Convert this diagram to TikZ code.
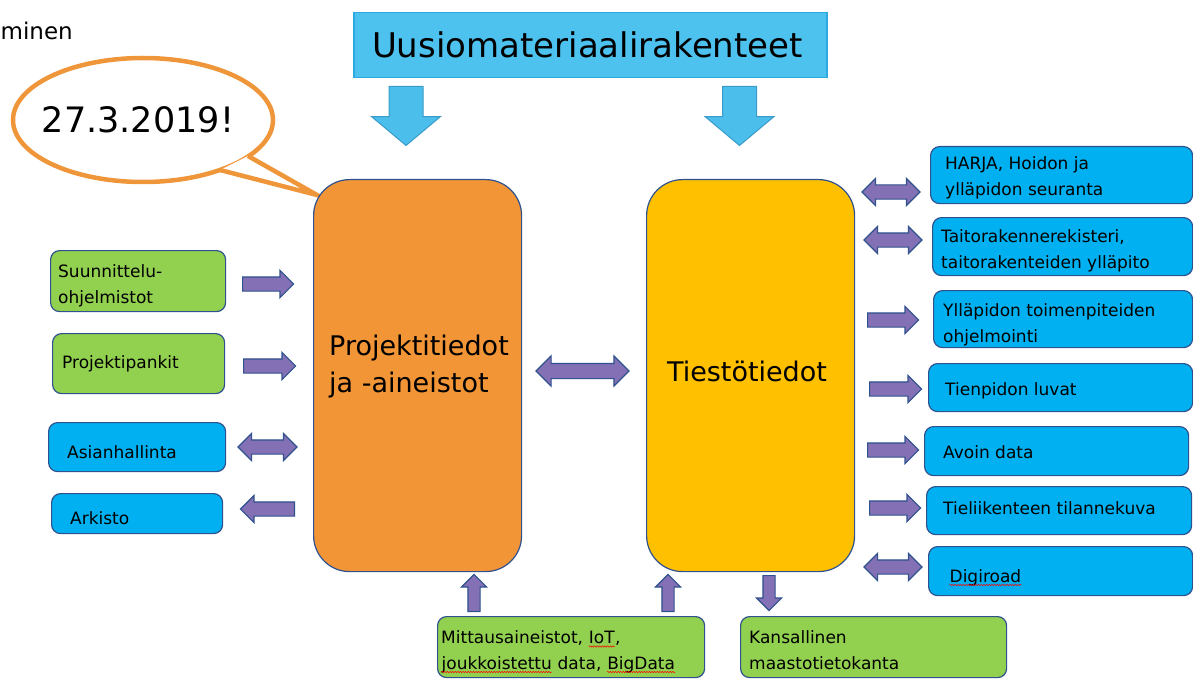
\documentclass[tikz,border=0pt]{standalone}
\usepackage{fontspec}
\setmainfont{DejaVu Sans}
\usetikzlibrary{shapes.arrows,decorations.pathmorphing}

\definecolor{skyblue}{HTML}{4DC2EF}
\definecolor{skyline}{HTML}{2DA9E1}
\definecolor{arrowblue}{HTML}{4BBEEC}
\definecolor{arrowblueline}{HTML}{3A9BC9}
\definecolor{bubbleorange}{HTML}{F0963A}
\definecolor{projorange}{HTML}{F29537}
\definecolor{tiestoyellow}{HTML}{FFC000}
\definecolor{boxgreen}{HTML}{92D050}
\definecolor{boxblue}{HTML}{00B0F0}
\definecolor{edgeblue}{HTML}{2F528F}
\definecolor{arrowpurple}{HTML}{8470B4}

\newcommand\spellmark[1]{\tikz[baseline=(w.base)]{\node[inner sep=0pt] (w) {#1}; \draw[red, line width=0.5pt, decorate, decoration={snake, amplitude=0.7pt, segment length=2.6pt}] ([yshift=-3pt]w.base west) -- ([yshift=-3pt]w.base east);}}

\tikzset{
  box/.style={draw=edgeblue, line width=1.2pt, rounded corners=9pt, anchor=north west, inner sep=0pt},
  greenbox/.style={box, fill=boxgreen},
  bluebox/.style={box, fill=boxblue},
  bigbox/.style={draw=edgeblue, line width=1.2pt, rounded corners=36pt, anchor=north west, inner sep=0pt, minimum width=208pt, minimum height=392pt},
  txt/.style={anchor=base west, inner sep=0pt, align=left, font=\fontsize{17}{25.5}\selectfont},
  bigtxt/.style={txt, font=\fontsize{27}{37}\selectfont},
  rarrow/.style={single arrow, anchor=tail, draw=edgeblue, fill=arrowpurple, line width=1.2pt, inner sep=6.5pt, minimum width=26pt, minimum height=52pt, single arrow head extend=6.5pt},
  darrow/.style={double arrow, draw=edgeblue, fill=arrowpurple, line width=1.2pt, inner sep=6.5pt, minimum width=26pt, minimum height=58pt, double arrow head extend=6.5pt},
  uparrow/.style={rarrow, inner sep=5.5pt, minimum width=24pt, single arrow head extend=6.5pt},
  downarrow/.style={single arrow, anchor=tail, shape border rotate=270, draw=arrowblueline, fill=arrowblue, line width=1pt, inner sep=16.5pt, minimum width=68pt, minimum height=59pt, single arrow head extend=17.5pt, single arrow tip angle=100}
}

\begin{document}
\begin{tikzpicture}[x=1pt, y=-1pt]
  \useasboundingbox (0,0) rectangle (1193,687);
  \clip (0,0) rectangle (1193,687);

  \node[anchor=base east, inner sep=0pt, font=\fontsize{23}{28}\selectfont] (minen) at (73,40) {minen};

  \node[draw=skyline, fill=skyblue, line width=1.5pt, anchor=north west, inner sep=0pt, minimum width=473pt, minimum height=65pt] (uusio) at (353,12) {};
  \node[anchor=base, inner sep=0pt, font=\fontsize{34}{40}\selectfont] (uusioT) at (587.5,58) {Uusiomateriaalirakenteet};
  \node[downarrow] (down1) at (406,86) {};
  \node[downarrow] (down2) at (739.5,86) {};

  \draw[bubbleorange, line width=4.5pt, fill=white] (143,120) ellipse [x radius=130, y radius=62];
  \fill[white] (220,170) -- (317,195) -- (248,156) -- cycle;
  \draw[bubbleorange, line width=4.5pt, line join=miter] (220,170) -- (317,195) -- (248,156);
  \node[anchor=base, inner sep=0pt, font=\fontsize{35}{40}\selectfont] (pvm) at (138,133) {27.3.2019!};

  \node[bigbox, fill=projorange] (projekti) at (313,179) {};
  \node[bigtxt] (projektiT) at (329,392) {Projektitiedot\\ja -aineistot};
  \node[bigbox, fill=tiestoyellow] (tiesto) at (646,179) {};
  \node[bigtxt, anchor=base] (tiestoT) at (747,381) {Tiestötiedot};
  \node[darrow, inner sep=7pt, minimum width=29pt, minimum height=93pt, double arrow head extend=7.5pt] (valinen) at (582.5,371) {};

  \node[greenbox, minimum width=175pt, minimum height=61pt] (suun) at (50,250) {};
  \node[txt] (suunT) at (58,303) {Suunnittelu-\\ohjelmistot};
  \node[greenbox, minimum width=172pt, minimum height=60pt] (pankit) at (52,333) {};
  \node[txt] (pankitT) at (62,368) {Projektipankit};
  \node[bluebox, minimum width=177pt, minimum height=49pt] (asian) at (48,422) {};
  \node[txt] (asianT) at (67,458) {Asianhallinta};
  \node[bluebox, minimum width=171pt, minimum height=40pt] (arkisto) at (51,493) {};
  \node[txt] (arkistoT) at (70,524) {Arkisto};

  \node[rarrow, minimum height=51pt] (la1) at (242,284) {};
  \node[rarrow] (la2) at (243,366) {};
  \node[darrow, minimum height=59pt] (la3) at (267.5,447) {};
  \node[rarrow, shape border rotate=180, minimum height=54pt] (la4) at (295,509) {};

  \node[bluebox, minimum width=262pt, minimum height=57pt] (harja) at (930,146) {};
  \node[txt] (harjaT) at (945,195) {HARJA, Hoidon ja\\ylläpidon seuranta};
  \node[bluebox, minimum width=260pt, minimum height=58pt] (taito) at (932,217) {};
  \node[txt] (taitoT) at (941,268) {Taitorakennerekisteri,\\taitorakenteiden ylläpito};
  \node[bluebox, minimum width=259pt, minimum height=57pt] (toimen) at (933,290) {};
  \node[txt] (toimenT) at (943,342) {Ylläpidon toimenpiteiden\\ohjelmointi};
  \node[bluebox, minimum width=264pt, minimum height=48pt] (luvat) at (928,363) {};
  \node[txt] (luvatT) at (945,395) {Tienpidon luvat};
  \node[bluebox, minimum width=264pt, minimum height=49pt] (avoin) at (924,426) {};
  \node[txt] (avoinT) at (943,458) {Avoin data};
  \node[bluebox, minimum width=265pt, minimum height=48pt] (tilanne) at (926,486) {};
  \node[txt] (tilanneT) at (943,514) {Tieliikenteen tilannekuva};
  \node[bluebox, minimum width=264pt, minimum height=49pt] (digiroad) at (928,546) {};
  \node[txt] (digiroadT) at (949,582) {\spellmark{Digiroad}};

  \node[darrow] (ra1) at (891,192) {};
  \node[darrow] (ra2) at (893,240) {};
  \node[rarrow, minimum height=51pt] (ra3) at (867,320) {};
  \node[rarrow] (ra4) at (869,389) {};
  \node[rarrow, minimum height=51pt] (ra5) at (867,450) {};
  \node[rarrow, minimum height=51pt] (ra6) at (869,508) {};
  \node[darrow] (ra7) at (893,567) {};

  \node[greenbox, minimum width=267pt, minimum height=61pt] (mittaus) at (437,616) {};
  \node[txt] (mittausT) at (441,669) {Mittausaineistot, \spellmark{IoT},\\\spellmark{joukkoistettu} data, \spellmark{BigData}};
  \node[greenbox, minimum width=266pt, minimum height=61pt] (maasto) at (740,616) {};
  \node[txt] (maastoT) at (749,669) {Kansallinen\\maastotietokanta};

  \node[uparrow, shape border rotate=90, minimum height=37pt] (ua1) at (474,612) {};
  \node[uparrow, shape border rotate=90, minimum height=37pt] (ua2) at (668,612) {};
  \node[uparrow, shape border rotate=270, minimum height=35pt] (da1) at (769,575) {};
\end{tikzpicture}
\end{document}
